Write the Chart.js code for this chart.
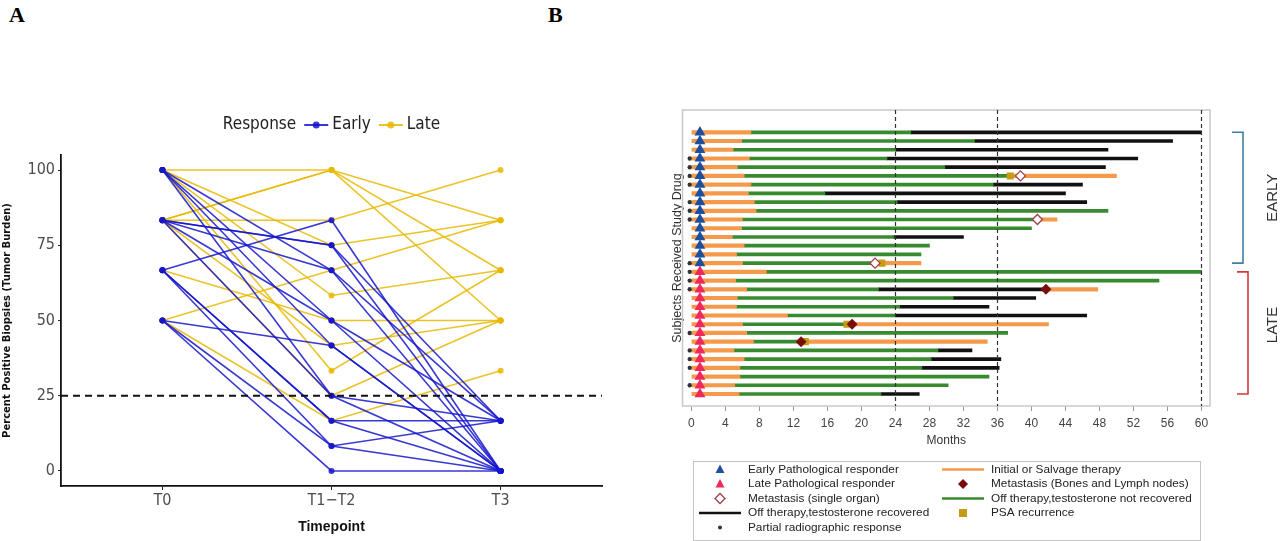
<!DOCTYPE html>
<html>
<head>
<meta charset="utf-8">
<script src="https://cdn.jsdelivr.net/npm/chart.js@4.4.0/dist/chart.umd.min.js"></script>
<style>
  html, body { margin: 0; padding: 0; background: #fff; }
  body { width: 1280px; height: 541px; position: relative; overflow: hidden; }
  .tag { position: absolute; top: 2px; font: bold 22px 'Liberation Serif', 'DejaVu Serif', serif; color: #000; }
  #chartA { position: absolute; left: 0; top: 100px; }
  #chartB { position: absolute; left: 670px; top: 100px; }
</style>
</head>
<body>
<div class="tag" style="left:9px">A</div>
<div class="tag" style="left:548px">B</div>
<canvas id="chartA" width="620" height="441"></canvas>
<canvas id="chartB" width="610" height="441"></canvas>
<script>
// ---- panel A : tumour burden per patient ----
var timepoints = ['T0', 'T1\u2212T2', 'T3'];
var yTicksA = [0, 25, 50, 75, 100];
var threshold = 25;

var earlyT0  = [66.7, 83.3, 83.3, 100, 100, 83.3, 50, 100, 83.3, 66.7, 66.7, 50, 66.7, 50, 100, 83.3];
var earlyT12 = [83.3, 75, 66.7, 66.7, 50, 50, 41.7, 25, 25, 16.7, 16.7, 8.3, 8.3, 0, 41.7, 75];
var earlyT3  = [0, 16.7, 16.7, 0, 0, 16.7, 0, 16.7, 0, 16.7, 0, 16.7, 0, 0, 0, 0];

var lateT0  = [100, 83.3, 83.3, 100, 83.3, 50, 100, 66.7, 83.3, 100, 83.3, 50];
var lateT12 = [100, 100, 100, 75, 83.3, 66.7, 58.3, 50, 41.7, 33.3, 25, 16.7];
var lateT3  = [83.3, 66.7, 50, 83.3, 100, 83.3, 66.7, 50, 50, 66.7, 50, 33.3];

// ---- panel B : swimmer plot, one row per subject (months) ----
var earlyRows = [1, 2, 3, 4, 5, 6, 7, 8, 9, 10, 11, 12, 13, 14, 15, 16];
var lateRows  = [17, 18, 19, 20, 21, 22, 23, 24, 25, 26, 27, 28, 29, 30, 31];
var initialEnd = [7.0, 5.9, 4.9, 6.8, 5.4, 6.2, 7.0, 6.7, 7.4, 7.6, 6.0, 5.9, 4.8, 6.2, 5.3, 6.0,
                  8.8, 5.2, 6.5, 5.4, 5.3, 11.3, 6.0, 6.5, 7.3, 5.0, 6.2, 5.7, 5.7, 5.1, 5.6];
var greenEnd   = [25.8, 33.3, 24.0, 23.0, 29.8, 37.5, 35.5, 15.7, 24.2, 49.0, 40.7, 40.0, 23.8, 28.0, 27.0, 21.7,
                  60.0, 55.0, 22.0, 30.8, 24.5, 24.0, 18.3, 37.2, 12.9, 29.0, 28.2, 27.1, 35.0, 30.2, 22.3];
var blackEnd   = [60.0, 56.6, 49.0, 52.5, 48.7, null, 46.0, 44.0, 46.5, null, null, null, 32.0, null, null, null,
                  null, null, 41.8, 40.5, 35.0, 46.5, null, null, null, 33.0, 36.4, 36.2, null, null, 26.8];
var salvageEnd = [null, null, null, null, null, 50.0, null, null, null, null, 43.0, null, null, null, null, 27.0,
                  null, null, 47.8, null, null, null, 42.0, null, 34.8, null, null, null, null, null, null];
var partialRows = [4, 5, 6, 7, 9, 10, 11, 16, 17, 18, 19, 24, 26, 27, 28, 30];
var metSingleRows = [6, 11, 16];
var metSingleMonths = [38.7, 40.7, 21.6];
var metBoneRows = [19, 23, 25];
var metBoneMonths = [41.7, 18.9, 12.9];
var psaRows = [6, 16, 23, 25];
var psaMonths = [37.5, 22.4, 18.3, 13.4];
var responderMonth = 1;
var partialMonth = -0.2;
var monthTicks = [0, 4, 8, 12, 16, 20, 24, 28, 32, 36, 40, 44, 48, 52, 56, 60];
var refMonths = [24, 36, 60];

var narrow = "'Liberation Sans Narrow', 'DejaVu Sans Condensed', 'Liberation Sans', sans-serif";
var sans = "'Liberation Sans', Arial, sans-serif";

var blue = 'rgba(22, 22, 205, 0.85)';
var gold = 'rgba(231, 184, 0, 0.85)';

Chart.defaults.animation = false;
Chart.defaults.events = [];
Chart.defaults.plugins.legend.display = false;
Chart.defaults.plugins.tooltip.enabled = false;

function patientSets(t0, t12, t3, label, color) {
  return t0.map(function(v, i) {
    return {
      type: 'line',
      label: label,
      data: [v, t12[i], t3[i]].map(function(y, k) { return {x: k, y: y}; }),
      borderColor: color,
      backgroundColor: color,
      borderWidth: 1.6,
      pointRadius: 3,
      pointBorderWidth: 0,
      tension: 0
    };
  });
}

var legendA = {
  id: 'legendA',
  afterDraw: function(chart) {
    var ctx = chart.ctx, area = chart.chartArea;
    var items = [{label: 'Early', color: blue}, {label: 'Late', color: gold}];
    ctx.save();
    ctx.textBaseline = 'middle';
    ctx.font = '17px ' + narrow;
    var title = 'Response';
    var total = ctx.measureText(title).width;
    items.forEach(function(it) { total += 8 + 24 + 4 + ctx.measureText(it.label).width; });
    var x = (area.left + area.right) / 2 - total / 2, y = 25;
    ctx.fillStyle = '#222';
    ctx.fillText(title, x, y);
    x += ctx.measureText(title).width;
    items.forEach(function(it) {
      x += 8;
      ctx.strokeStyle = it.color; ctx.fillStyle = it.color; ctx.lineWidth = 2;
      ctx.beginPath(); ctx.moveTo(x, y); ctx.lineTo(x + 24, y); ctx.stroke();
      ctx.beginPath(); ctx.arc(x + 12, y, 3.5, 0, Math.PI * 2); ctx.fill();
      x += 28;
      ctx.fillStyle = '#222';
      ctx.fillText(it.label, x, y);
      x += ctx.measureText(it.label).width;
    });
    ctx.restore();
  }
};

var thresholdLine = {
  id: 'thresholdLine',
  afterDatasetsDraw: function(chart) {
    var ctx = chart.ctx, area = chart.chartArea;
    var y = chart.scales.y.getPixelForValue(threshold);
    ctx.save();
    ctx.strokeStyle = '#111'; ctx.lineWidth = 2; ctx.setLineDash([7, 5]);
    ctx.beginPath(); ctx.moveTo(area.left, y); ctx.lineTo(area.right, y); ctx.stroke();
    ctx.restore();
  }
};

new Chart(document.getElementById('chartA'), {
  type: 'line',
  data: {
    datasets: patientSets(earlyT0, earlyT12, earlyT3, 'Early', blue)
      .concat(patientSets(lateT0, lateT12, lateT3, 'Late', gold))
  },
  options: {
    responsive: false,
    layout: {padding: {top: 55, right: 18, left: 0, bottom: 0}},
    scales: {
      x: {
        type: 'linear', min: -0.6, max: 2.6, offset: false,
        afterBuildTicks: function(s) { s.ticks = timepoints.map(function(t, i) { return {value: i}; }); },
        afterFit: function(s) { s.height = 55; },
        grid: {display: true, drawOnChartArea: false, drawTicks: true, tickLength: 4, color: '#222', offset: false},
        border: {display: true, color: '#111', width: 1.8},
        ticks: {callback: function(v) { return timepoints[v]; }, font: {family: narrow, size: 16}, color: '#4d4d4d',
                padding: 1, maxRotation: 0, autoSkip: false},
        title: {display: true, text: 'Timepoint', font: {family: sans, size: 14, weight: 'bold'}, color: '#111',
                padding: {top: 0, bottom: 5}}
      },
      y: {
        min: -5, max: 105,
        afterBuildTicks: function(s) { s.ticks = yTicksA.map(function(v) { return {value: v}; }); },
        afterFit: function(s) { s.width = 61; },
        grid: {display: true, drawOnChartArea: false, drawTicks: true, tickLength: 3, color: '#222'},
        border: {display: true, color: '#111', width: 1.8},
        ticks: {font: {family: narrow, size: 16}, color: '#4d4d4d', padding: 3},
        title: {display: true, text: 'Percent Positive Biopsies (Tumor Burden)',
                font: {family: "'DejaVu Sans', sans-serif", size: 10, weight: 'bold'}, color: '#111', padding: 1}
      }
    }
  },
  plugins: [legendA, thresholdLine]
});

// ---- panel B ----
var subjects = initialEnd.map(function(_, i) { return i + 1; });
var zeroStart = subjects.map(function() { return 0; });
var salvageStart = subjects.map(function(r, i) { return blackEnd[i] != null ? blackEnd[i] : greenEnd[i]; });

function segment(label, color, starts, ends, thick) {
  var data = [];
  subjects.forEach(function(r, i) {
    if (starts[i] != null && ends[i] != null) data.push({y: r, x: [starts[i], ends[i]]});
  });
  return {type: 'bar', label: label, data: data, backgroundColor: color, barThickness: thick,
          grouped: false, borderWidth: 0, borderSkipped: false, order: 10};
}

function marks(label, rows, months, style) {
  var ds = {type: 'scatter', label: label,
            data: rows.map(function(r, i) { return {x: months[i], y: r}; })};
  for (var k in style) ds[k] = style[k];
  return ds;
}

var orange = '#F49A4A', green = '#388A2E', black = '#111111';
var navy = '#1F4F9C', pink = '#F0285C', brown = '#A0404A', maroon = '#7B0C0C', mustard = '#C49D12';

function drawMark(ctx, kind, x, y) {
  ctx.save();
  ctx.setLineDash([]);
  if (kind.indexOf('line') === 0) {
    ctx.strokeStyle = kind === 'line-black' ? black : kind === 'line-green' ? green : orange;
    ctx.lineWidth = 2.5;
    ctx.beginPath(); ctx.moveTo(x - 21, y); ctx.lineTo(x + 21, y); ctx.stroke();
  } else if (kind === 'tri-early' || kind === 'tri-late') {
    ctx.fillStyle = kind === 'tri-early' ? navy : pink;
    ctx.beginPath(); ctx.moveTo(x, y - 5); ctx.lineTo(x + 4.5, y + 3.5); ctx.lineTo(x - 4.5, y + 3.5);
    ctx.closePath(); ctx.fill();
  } else if (kind === 'diamond-open' || kind === 'diamond') {
    ctx.beginPath(); ctx.moveTo(x, y - 5); ctx.lineTo(x + 5, y); ctx.lineTo(x, y + 5); ctx.lineTo(x - 5, y);
    ctx.closePath();
    if (kind === 'diamond') { ctx.fillStyle = maroon; ctx.fill(); }
    else { ctx.fillStyle = '#fff'; ctx.fill(); ctx.strokeStyle = brown; ctx.lineWidth = 1.3; ctx.stroke(); }
  } else if (kind === 'square') {
    ctx.fillStyle = mustard; ctx.fillRect(x - 4, y - 4, 8, 8);
  } else if (kind === 'dot') {
    ctx.fillStyle = '#333'; ctx.beginPath(); ctx.arc(x, y, 2, 0, Math.PI * 2); ctx.fill();
  }
  ctx.restore();
}

var swimmerDecor = {
  id: 'swimmerDecor',
  beforeDatasetsDraw: function(chart) {
    var ctx = chart.ctx, a = chart.chartArea;
    ctx.save();
    ctx.strokeStyle = '#c8c8c8'; ctx.lineWidth = 1.5;
    ctx.strokeRect(a.left, a.top, a.right - a.left, a.bottom - a.top);
    ctx.restore();
  },
  afterDatasetsDraw: function(chart) {
    var ctx = chart.ctx, a = chart.chartArea, xs = chart.scales.x, ys = chart.scales.y;
    ctx.save();
    ctx.strokeStyle = '#333'; ctx.lineWidth = 1.2; ctx.setLineDash([4, 3]);
    refMonths.forEach(function(m) {
      var x = Math.round(xs.getPixelForValue(m)) + 0.5;
      ctx.beginPath(); ctx.moveTo(x, a.top); ctx.lineTo(x, a.bottom); ctx.stroke();
    });
    ctx.setLineDash([]);
    // group brackets
    var groups = [
      {rows: earlyRows, text: 'EARLY', color: '#3F7FA6', dx: 33, shift: 0},
      {rows: lateRows, text: 'LATE', color: '#D43A3A', dx: 38, shift: -8}
    ];
    groups.forEach(function(g) {
      var top = ys.getPixelForValue(g.rows[0]);
      var bottom = ys.getPixelForValue(g.rows[g.rows.length - 1]);
      var x = a.right + g.dx;
      ctx.strokeStyle = g.color; ctx.lineWidth = 1.6;
      ctx.beginPath();
      ctx.moveTo(x - 11, top); ctx.lineTo(x, top); ctx.lineTo(x, bottom); ctx.lineTo(x - 11, bottom);
      ctx.stroke();
      ctx.save();
      ctx.translate(a.right + 63, (top + bottom) / 2 + g.shift);
      ctx.rotate(-Math.PI / 2);
      ctx.fillStyle = '#333'; ctx.font = '15px ' + sans;
      ctx.textAlign = 'center'; ctx.textBaseline = 'middle';
      ctx.fillText(g.text, 0, 0);
      ctx.restore();
    });
    ctx.restore();
  },
  afterDraw: function(chart) {
    var ctx = chart.ctx;
    var box = {x: 23, y: 361, w: 507, h: 79};
    var rowsY = [369.5, 384, 398.5, 413, 427.5];
    var col1 = [['tri-early', 'Early Pathological responder'], ['tri-late', 'Late Pathological responder'],
                ['diamond-open', 'Metastasis (single organ)'], ['line-black', 'Off therapy,testosterone recovered'],
                ['dot', 'Partial radiographic response']];
    var col2 = [['line-orange', 'Initial or Salvage therapy'], ['diamond', 'Metastasis (Bones and Lymph nodes)'],
                ['line-green', 'Off therapy,testosterone not recovered'], ['square', 'PSA recurrence']];
    ctx.save();
    ctx.strokeStyle = '#c4c4c4'; ctx.lineWidth = 1;
    ctx.strokeRect(box.x + 0.5, box.y + 0.5, box.w, box.h);
    ctx.font = '11.8px ' + sans; ctx.fillStyle = '#222'; ctx.textBaseline = 'middle';
    col1.forEach(function(it, i) {
      drawMark(ctx, it[0], 50, rowsY[i]);
      ctx.fillStyle = '#222'; ctx.fillText(it[1], 78, rowsY[i]);
    });
    col2.forEach(function(it, i) {
      drawMark(ctx, it[0], 293, rowsY[i]);
      ctx.fillStyle = '#222'; ctx.fillText(it[1], 321, rowsY[i]);
    });
    ctx.restore();
  }
};

new Chart(document.getElementById('chartB'), {
  type: 'bar',
  data: {
    datasets: [
      segment('Initial therapy', orange, zeroStart, initialEnd, 3.5),
      segment('Off therapy, testosterone not recovered', green, initialEnd, greenEnd, 3),
      segment('Off therapy, testosterone recovered', black, greenEnd, blackEnd, 3),
      segment('Salvage therapy', orange, salvageStart, salvageEnd, 3.5),
      marks('PSA recurrence', psaRows, psaMonths,
            {pointStyle: 'rect', pointRadius: 5, backgroundColor: mustard, borderWidth: 0, order: 5}),
      marks('Metastasis (single organ)', metSingleRows, metSingleMonths,
            {pointStyle: 'rectRot', pointRadius: 5, backgroundColor: '#fff', borderColor: brown, borderWidth: 1.3, order: 3}),
      marks('Metastasis (Bones and Lymph nodes)', metBoneRows, metBoneMonths,
            {pointStyle: 'rectRot', pointRadius: 5.5, backgroundColor: maroon, borderWidth: 0, order: 3}),
      marks('Early Pathological responder', earlyRows, earlyRows.map(function() { return responderMonth; }),
            {pointStyle: 'triangle', pointRadius: 6.3, backgroundColor: navy, borderWidth: 0, order: 2}),
      marks('Late Pathological responder', lateRows, lateRows.map(function() { return responderMonth; }),
            {pointStyle: 'triangle', pointRadius: 6.3, backgroundColor: pink, borderWidth: 0, order: 2}),
      marks('Partial radiographic response', partialRows, partialRows.map(function() { return partialMonth; }),
            {pointStyle: 'circle', pointRadius: 2.2, backgroundColor: '#333', borderWidth: 0, order: 1})
    ]
  },
  options: {
    responsive: false,
    indexAxis: 'y',
    layout: {padding: {top: 10, right: 70, left: 0, bottom: 0}},
    scales: {
      x: {
        type: 'linear', min: -1.05, max: 61, offset: false,
        afterBuildTicks: function(s) { s.ticks = monthTicks.map(function(v) { return {value: v}; }); },
        afterFit: function(s) { s.height = 135; },
        grid: {display: true, drawOnChartArea: false, drawTicks: true, tickLength: 5, color: '#999', offset: false},
        border: {display: false},
        ticks: {font: {family: sans, size: 12}, color: '#444', padding: 5.5, maxRotation: 0, autoSkip: false},
        title: {display: true, text: 'Months', font: {family: sans, size: 12}, color: '#333',
                padding: {top: 0, bottom: 92.8}}
      },
      y: {
        type: 'linear', reverse: true, min: -1.556, max: 32.376, offset: false,
        afterFit: function(s) { s.width = 12.5; },
        grid: {display: false, offset: false},
        border: {display: false},
        ticks: {display: false},
        title: {display: true, text: 'Subjects Received Study Drug', font: {family: sans, size: 12.5}, color: '#333',
                padding: 0}
      }
    }
  },
  plugins: [swimmerDecor]
});
</script>
</body>
</html>
